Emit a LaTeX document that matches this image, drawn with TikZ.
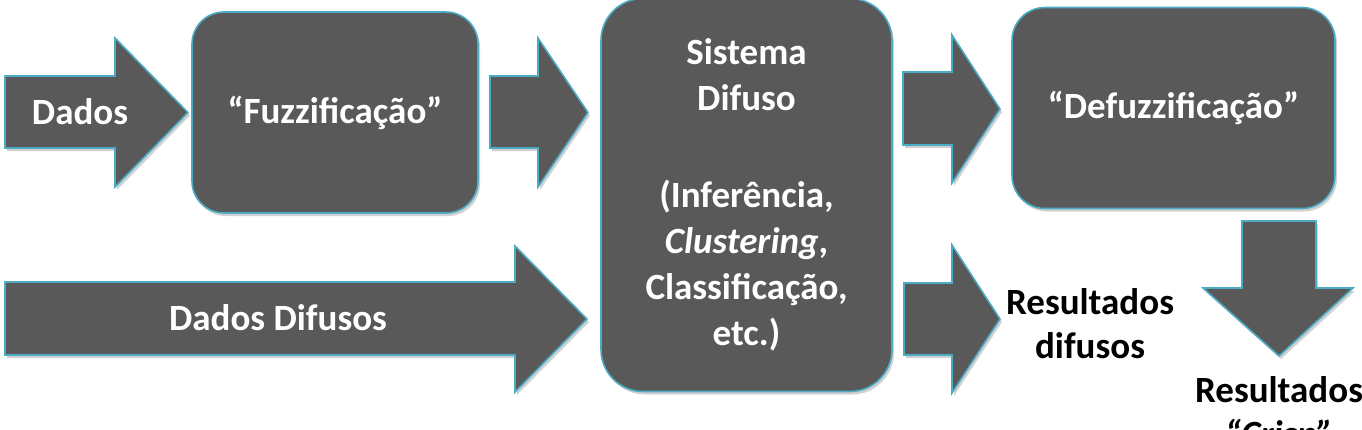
\documentclass[tikz,border=0pt]{standalone}
\usepackage{fontspec}
\setmainfont{Carlito}
\usetikzlibrary{shadows}
\definecolor{blockfill}{HTML}{595959}
\definecolor{blockline}{HTML}{4BACC6}
\tikzset{
  blk/.style={fill=blockfill, draw=blockline, line width=1.6pt, line join=miter,
    drop shadow={shadow xshift=2pt, shadow yshift=-3pt, fill=black, opacity=0.18}},
  rbox/.style={blk, inner sep=0pt, text=white, align=center,
    font=\bfseries\fontsize{37}{46}\selectfont},
  wtext/.style={text=white, inner sep=0pt, align=center, font=\bfseries\fontsize{37}{44}\selectfont},
  btext/.style={text=black, inner sep=0pt, align=center, font=\bfseries\fontsize{37}{44}\selectfont}
}
\begin{document}
\begin{tikzpicture}[x=1pt, y=-1pt]
\useasboundingbox (0,0) rectangle (1362,429);
\clip (0,0) rectangle (1362,429);
% boxes
\node[rbox, minimum width=286pt, minimum height=201pt, rounded corners=32pt] (fuzz) at (335,112.5) {“Fuzzificação”};
\node[rbox, minimum width=291pt, minimum height=393pt, rounded corners=42pt] (sys) at (746.5,195)
  {Sistema\\Difuso\\[51pt](Inferência,\\\textit{Clustering},\\Classificação,\\etc.)};
\node[rbox, minimum width=323pt, minimum height=201pt, rounded corners=33pt] (defuzz) at (1173.5,108) {“Defuzzificação”};
% block arrows
\draw[blk] (5,76) -- (115,76) -- (115,38) -- (188,112.5) -- (115,187) -- (115,148) -- (5,148) -- cycle;
\draw[blk] (490,76) -- (538,76) -- (538,38) -- (588,112.5) -- (538,187) -- (538,148) -- (490,148) -- cycle;
\draw[blk] (5,282) -- (515,282) -- (515,246) -- (587,319) -- (515,392) -- (515,355) -- (5,355) -- cycle;
\draw[blk] (903,72) -- (952,72) -- (952,35) -- (1000,109) -- (952,183) -- (952,145) -- (903,145) -- cycle;
\draw[blk] (904,283) -- (952,283) -- (952,245) -- (1000,319) -- (952,393) -- (952,355) -- (904,355) -- cycle;
\draw[blk] (1242,221) -- (1316,221) -- (1316,288) -- (1353,288) -- (1279,356) -- (1203,288) -- (1242,288) -- cycle;
% labels
\node[wtext] (dados) at (80,112) {Dados};
\node[wtext] (dadosdif) at (278,318) {Dados Difusos};
\node[btext] (resdif) at (1090,324) {Resultados\\difusos};
\node[btext, anchor=north] (rescrisp) at (1279,376) {Resultados\\\textit{“Crisp”}};
\end{tikzpicture}
\end{document}
